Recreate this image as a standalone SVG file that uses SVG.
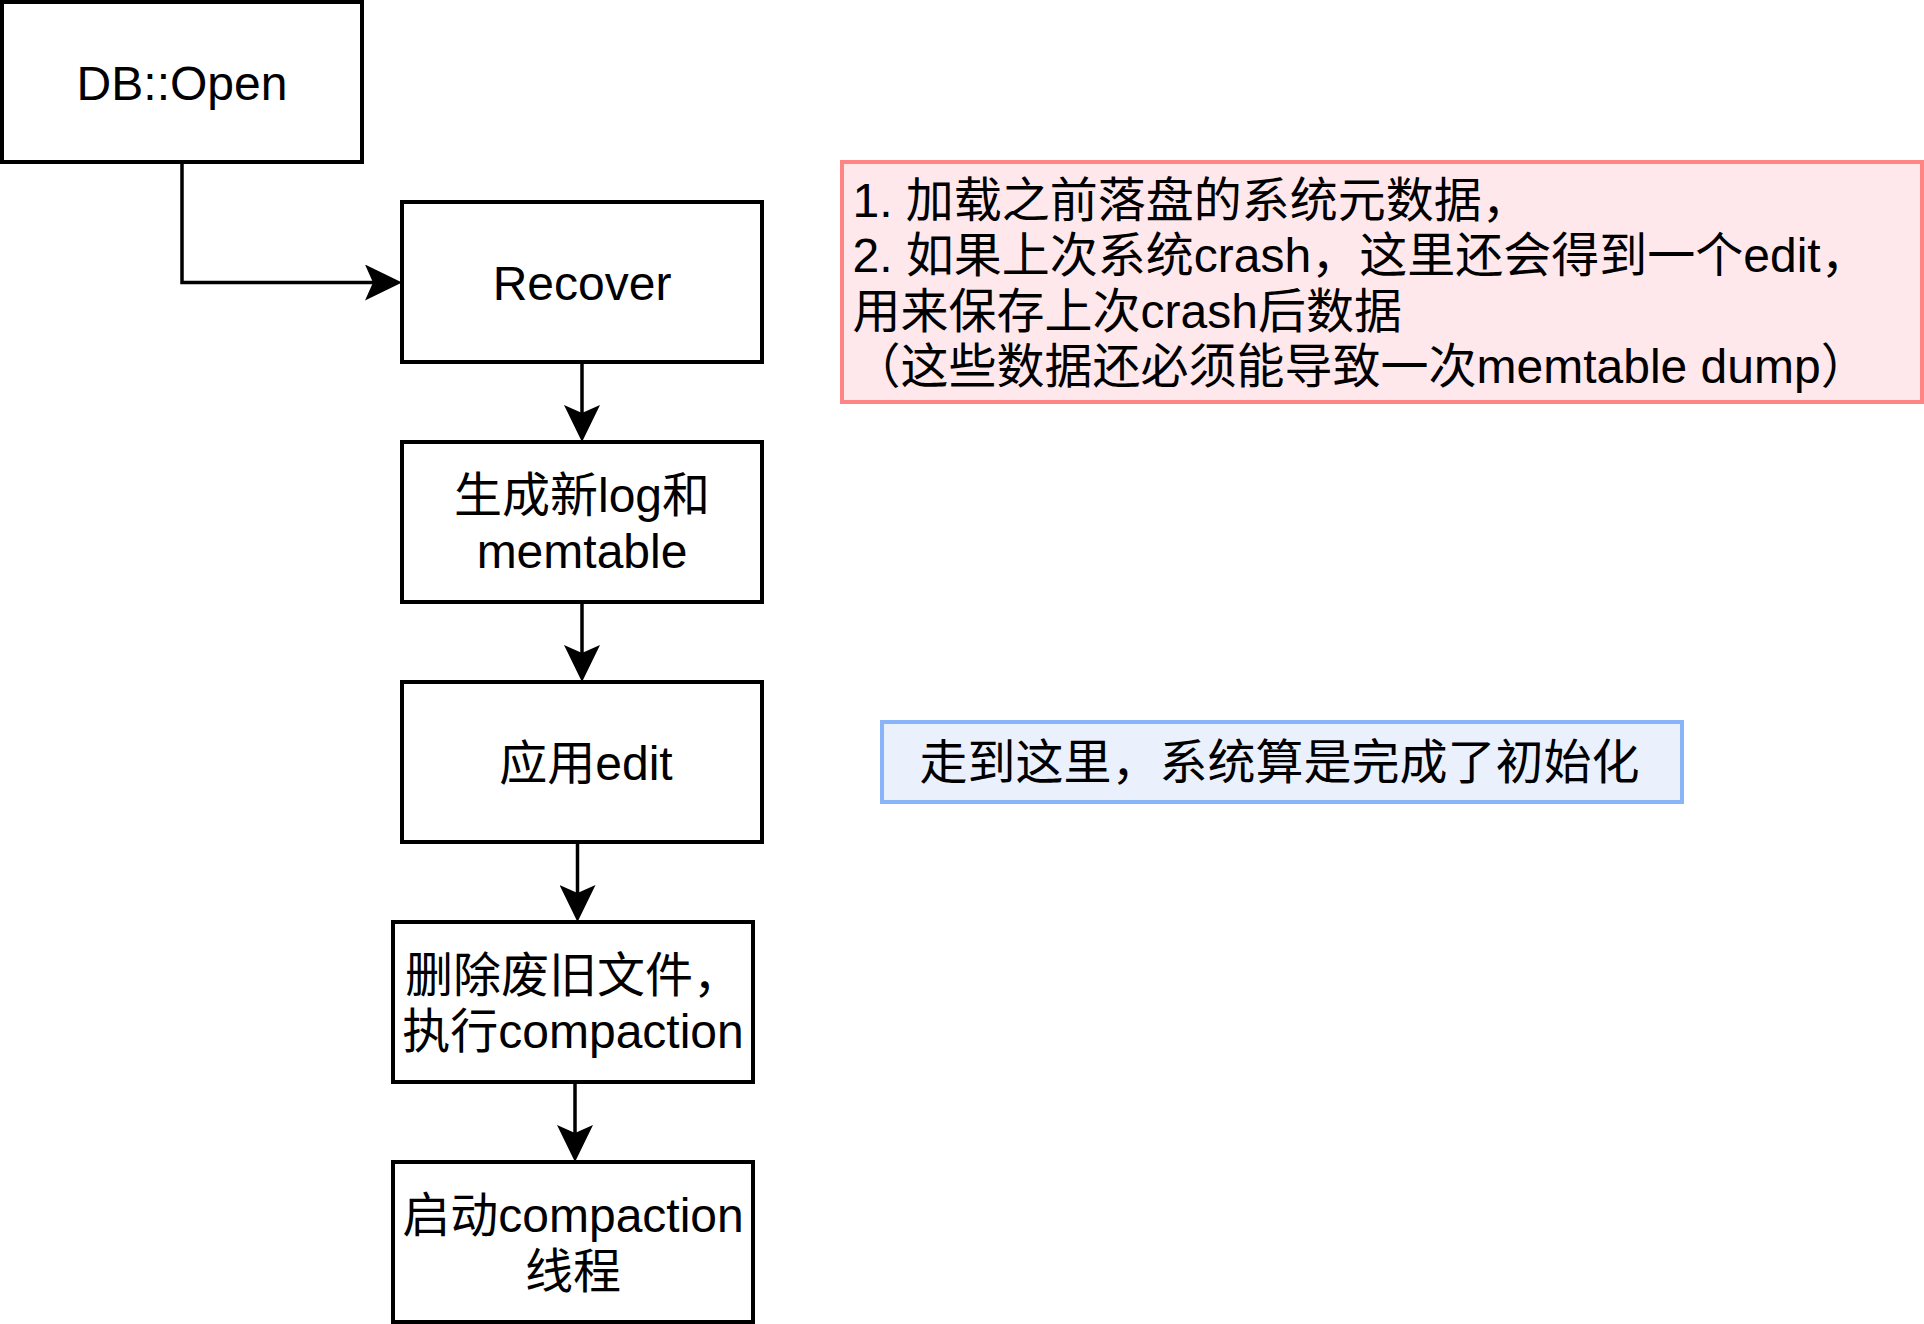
<svg xmlns="http://www.w3.org/2000/svg" width="1924" height="1324" viewBox="0 0 1924 1324">
  <style>
    .box { fill: #ffffff; stroke: #000000; stroke-width: 4; }
    .note-red { fill: #ffe8ec; stroke: #ff8585; stroke-width: 4; }
    .note-blue { fill: #eaf1fd; stroke: #8ab4f8; stroke-width: 4; }
    .lbl { font-family: "Liberation Sans", "Noto Sans CJK SC", sans-serif; font-size: 48px; fill: #000000; }
    .c { text-anchor: middle; }
    .edge { fill: none; stroke: #000000; stroke-width: 3.5; }
  </style>
  <defs>
    <marker id="arrow" markerUnits="userSpaceOnUse" viewBox="0 0 37 36" refX="8" refY="18" markerWidth="37" markerHeight="36" orient="auto">
      <path d="M37,18 L0,0 L8,18 L0,36 Z" fill="#000000"/>
    </marker>
  </defs>

  <rect width="1924" height="1324" fill="#ffffff"/>

  <!-- flow steps -->
  <g id="db-open">
    <rect class="box" x="2" y="2" width="360" height="160"/>
    <text class="lbl c" x="182" y="100">DB::Open</text>
  </g>
  <g id="recover">
    <rect class="box" x="402" y="202" width="360" height="160"/>
    <text class="lbl c" x="582" y="299.5">Recover</text>
  </g>
  <g id="new-log">
    <rect class="box" x="402" y="442" width="360" height="160"/>
    <text class="lbl c" x="582" y="512">生成新log和</text>
    <text class="lbl c" x="582" y="567.5">memtable</text>
  </g>
  <g id="apply-edit">
    <rect class="box" x="402" y="682" width="360" height="160"/>
    <text class="lbl c" x="586" y="779.5">应用edit</text>
  </g>
  <g id="delete-obsolete">
    <rect class="box" x="393" y="922" width="360" height="160"/>
    <text class="lbl c" x="573" y="991.75">删除废旧文件，</text>
    <text class="lbl c" x="573" y="1047.5">执行compaction</text>
  </g>
  <g id="start-compaction">
    <rect class="box" x="393" y="1162" width="360" height="160"/>
    <text class="lbl c" x="573" y="1231.75">启动compaction</text>
    <text class="lbl c" x="573" y="1287.5">线程</text>
  </g>

  <!-- notes -->
  <g id="note-recover">
    <rect class="note-red" x="842" y="162" width="1080" height="240"/>
    <text class="lbl" x="852.5" y="216.5">1. 加载之前落盘的系统元数据，</text>
    <text class="lbl" x="852.5" y="272">2. 如果上次系统crash，这里还会得到一个edit，</text>
    <text class="lbl" x="852.5" y="327.5">用来保存上次crash后数据</text>
    <text class="lbl" x="852.5" y="383">（这些数据还必须能导致一次memtable dump）</text>
  </g>
  <g id="note-init">
    <rect class="note-blue" x="882" y="722" width="800" height="80"/>
    <text class="lbl c" x="1279.5" y="779">走到这里，系统算是完成了初始化</text>
  </g>

  <!-- connectors -->
  <g id="connectors">
    <path class="edge" d="M182,162 V282.5 H373" marker-end="url(#arrow)"/>
    <path class="edge" d="M582,362 V413" marker-end="url(#arrow)"/>
    <path class="edge" d="M582,602 V653" marker-end="url(#arrow)"/>
    <path class="edge" d="M577.5,842 V893" marker-end="url(#arrow)"/>
    <path class="edge" d="M575,1082 V1133" marker-end="url(#arrow)"/>
  </g>
</svg>
